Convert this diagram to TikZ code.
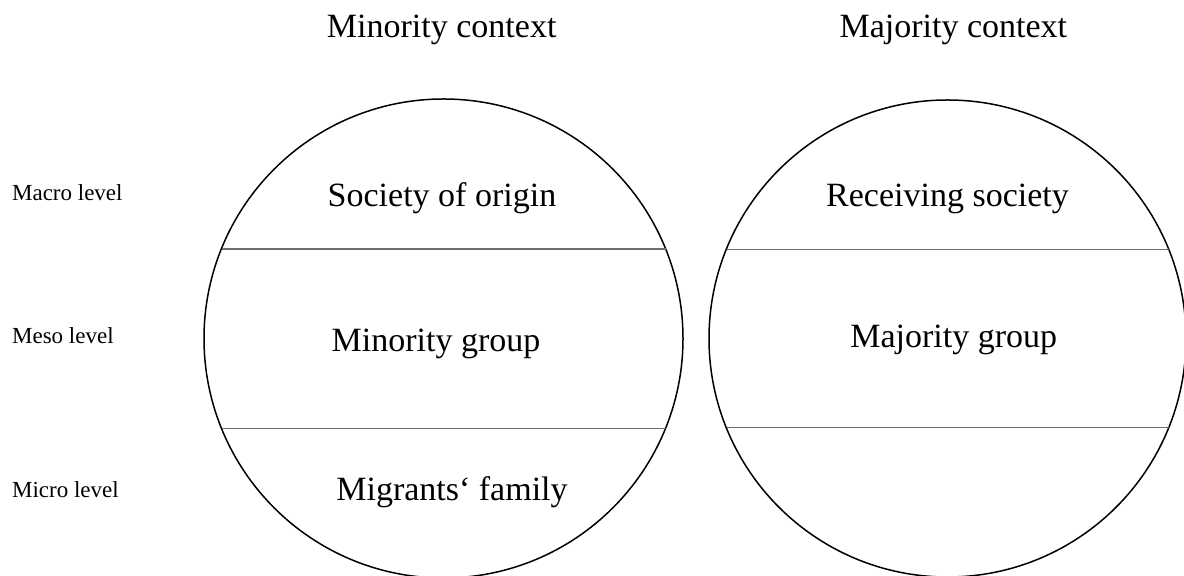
\documentclass[tikz,border=0pt]{standalone}
\usepackage{fontspec}
\setmainfont{Liberation Serif}
\usepackage{xcolor}
\usepackage{tikz}
\usetikzlibrary{positioning}
\definecolor{ctxBlack}{RGB}{0, 0, 0}
\definecolor{ctxGray}{RGB}{110, 110, 110}
\tikzset{
    context/.style={
        circle,
        draw=ctxBlack,
        line width=0.75pt,
        inner sep=0pt,
        outer sep=0pt
    },
    divider/.style={
        draw=ctxGray,
        line width=0.6pt
    },
    heading/.style={
        font=\fontsize{17}{20}\selectfont,
        anchor=base,
        inner sep=0pt
    },
    field/.style={
        font=\fontsize{17}{20}\selectfont,
        anchor=base,
        inner sep=0pt
    },
    level/.style={
        font=\fontsize{11.5}{14}\selectfont,
        anchor=base west,
        inner sep=0pt
    }
}

\begin{document}
\begin{tikzpicture}[x=0.5pt, y=-0.5pt]
    \useasboundingbox (0,0) rectangle (1184,576);
    \begin{scope}
    \clip (0,0) rectangle (1184,576);

    % Circles
    \node[context, minimum size=239.5pt] (minority) at (443.5,338.5) {};
    \node[context, minimum size=238.5pt] (majority) at (947.5,338.5) {};

    % Dividers
    \draw[divider] ([shift={(-222,-89.5)}]minority.center) -- ([shift={(222,-89.5)}]minority.center);
    \draw[divider] ([shift={(-222,89.8)}]minority.center) -- ([shift={(222,89.8)}]minority.center);
    \draw[divider] ([shift={(-221,-89.2)}]majority.center) -- ([shift={(221,-89.2)}]majority.center);
    \draw[divider] ([shift={(-221,89.2)}]majority.center) -- ([shift={(221,89.2)}]majority.center);
    \end{scope}

    % Headings
    \node[heading] (minorityTitle) at (441.7,37.7) {Minority context};
    \node[heading] (majorityTitle) at (953.3,37.7) {Majority context};

    % Fields
    \node[field] (origin) at (442,206.7) {Society of origin};
    \node[field] (minorityGroup) at (436,351.7) {Minority group};
    \node[field] (family) at (452,501) {Migrants‘ family};
    \node[field] (receiving) at (947.5,206.7) {Receiving society};
    \node[field] (majorityGroup) at (953.7,347.7) {Majority group};

    % Levels
    \node[level] (macro) at (11.7,200.7) {Macro level};
    \node[level] (meso) at (11.7,343.3) {Meso level};
    \node[level] (micro) at (11.7,497.7) {Micro level};
\end{tikzpicture}
\end{document}
